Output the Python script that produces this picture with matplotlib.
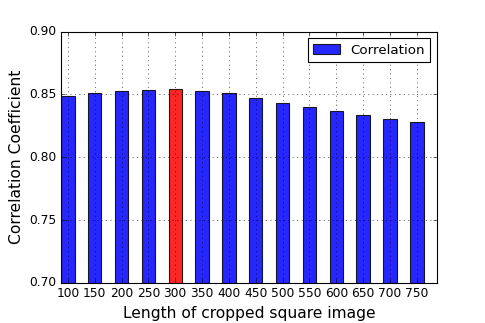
import numpy as np
import matplotlib
matplotlib.use("Agg")
import matplotlib.pyplot as plt
from matplotlib.ticker import FormatStrFormatter

# crop lengths and their correlation coefficients
lengths = [100, 150, 200, 250, 300, 350, 400, 450, 500, 550, 600, 650, 700, 750]
corr = [0.8484, 0.8513, 0.8526, 0.8534, 0.8540, 0.8530, 0.8508,
        0.8471, 0.8434, 0.8397, 0.8368, 0.8336, 0.8307, 0.8280]
best_length = 300

plt.style.use("classic")
plt.rcParams["figure.facecolor"] = "white"
plt.rcParams["savefig.facecolor"] = "white"

fig = plt.figure(figsize=(6.0625, 4.0375), dpi=80)
ax = fig.add_axes([0.126, 0.124, 0.775, 0.778])

x = np.arange(len(lengths))
colors = ["r" if l == best_length else "b" for l in lengths]
ax.bar(x, corr, width=0.5, align="edge", color=colors, edgecolor="k",
       alpha=0.85, label="Correlation")

ax.set_xlim(0, len(lengths))
ax.set_ylim(0.70, 0.90)
ax.set_xticks(x + 0.25)
ax.set_xticklabels([str(l) for l in lengths])
ax.set_yticks([0.70, 0.75, 0.80, 0.85, 0.90])
ax.yaxis.set_major_formatter(FormatStrFormatter("%.2f"))
ax.tick_params(labelsize=11)
ax.grid(True, linestyle=":", color="k")
ax.set_axisbelow(False)

ax.set_xlabel("Length of cropped square image", fontsize=14)
ax.set_ylabel("Correlation Coefficient", fontsize=14)
ax.legend(loc="upper right", fontsize=12)

fig.savefig("out.png", dpi=80)
